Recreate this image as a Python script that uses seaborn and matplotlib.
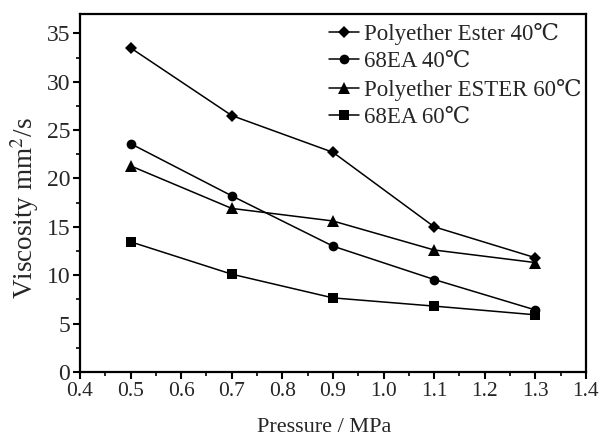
import numpy as np
import pandas as pd
import seaborn as sns
from matplotlib import pyplot as plt
from matplotlib.ticker import MultipleLocator

# %% Data
pressure = [0.5, 0.7, 0.9, 1.1, 1.3]
series_names = ["Polyether Ester 40℃", "68EA 40℃", "Polyether ESTER 60℃", "68EA 60℃"]
pe_40 = [33.5, 26.5, 22.7, 15.0, 11.8]
ea_40 = [23.6, 18.2, 13.0, 9.55, 6.4]
pe_60 = [21.3, 16.9, 15.6, 12.6, 11.3]
ea_60 = [13.45, 10.1, 7.65, 6.8, 5.9]

df = pd.DataFrame(
    {
        "pressure": pressure * 4,
        "viscosity": pe_40 + ea_40 + pe_60 + ea_60,
        "series": np.repeat(series_names, len(pressure)),
    }
)

# %% Plot
sns.set_style("ticks")
plt.rcParams["font.family"] = ["Liberation Serif", "DejaVu Serif"]
plt.rcParams["mathtext.fontset"] = "stix"

fig = plt.figure(figsize=(6.01, 4.37), dpi=100)
ax = fig.add_axes([0.133, 0.149, 0.842, 0.819])

markers = dict(zip(series_names, ["D", "o", "^", "s"]))
sizes = {"D": 6.5, "o": 7, "^": 8, "s": 7}
sns.lineplot(
    df,
    x="pressure",
    y="viscosity",
    style="series",
    style_order=series_names,
    markers=markers,
    dashes=False,
    color="black",
    linewidth=1.1,
    markersize=7,
    markeredgewidth=0,
    ax=ax,
)
for line in ax.lines:
    m = line.get_marker()
    if m in sizes:
        line.set_markersize(sizes[m])

ax.set_xlim(0.4, 1.4)
ax.set_ylim(0, 37)
ax.xaxis.set_major_locator(MultipleLocator(0.1))
ax.xaxis.set_minor_locator(MultipleLocator(0.05))
ax.yaxis.set_major_locator(MultipleLocator(5))
ax.yaxis.set_minor_locator(MultipleLocator(2.5))
ax.set_xticklabels([f"{v:.1f}" for v in ax.get_xticks()])
ax.tick_params(which="major", direction="out", length=5, width=1.5, labelsize=17, pad=2, color="black")
ax.tick_params(which="minor", direction="out", length=3, width=1.2, color="black")
ax.tick_params(axis="x", labelsize=15.5)
for sp in ax.spines.values():
    sp.set_linewidth(1.6)
    sp.set_color("black")

ax.set_xlabel("Pressure / MPa", fontsize=16)
ax.set_ylabel("Viscosity mm$^2$/s", fontsize=19.5)
ax.xaxis.set_label_coords(0.483, -0.128)
ax.yaxis.set_label_coords(-0.076, 0.458)

handles, labels = ax.get_legend_handles_labels()
for h in handles:
    m = h.get_marker()
    if m in sizes:
        h.set_markersize(sizes[m])
ax.legend(
    handles,
    labels,
    loc="upper left",
    bbox_to_anchor=(0.466, 1.014),
    frameon=False,
    fontsize=16.5,
    handlelength=1.3,
    handletextpad=0.2,
    labelspacing=0.28,
    borderaxespad=0.2,
)

fig.savefig("out.png", dpi=100)
